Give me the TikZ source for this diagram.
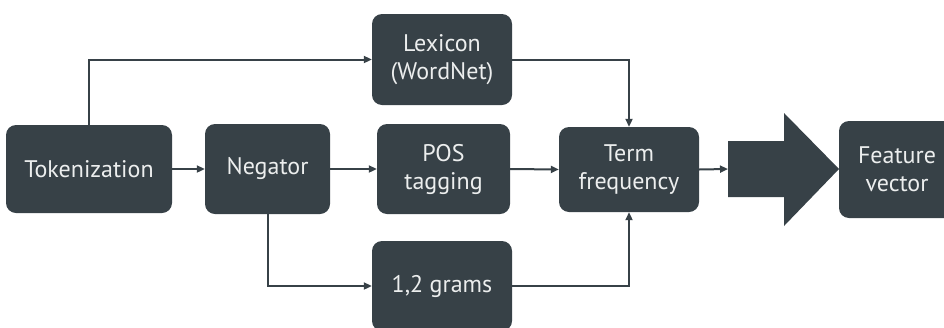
\documentclass[tikz,border=0pt]{standalone}
\usepackage{fontspec}
\setmainfont{PT Sans}
\usetikzlibrary{arrows.meta}
\definecolor{boxc}{HTML}{374147}
\definecolor{txtc}{HTML}{ECEEEE}
\tikzset{
  blk/.style={draw=none, fill=boxc, rounded corners=10pt, text=txtc, align=center,
    font=\fontsize{24}{28}\selectfont, inner sep=0pt},
  arr/.style={draw=boxc, line width=2pt, -{Triangle[length=8pt,width=7pt]}},
}
\begin{document}
\begin{tikzpicture}[x=1pt,y=-1pt]
\useasboundingbox (0,0) rectangle (944,327);
\node[blk, minimum width=166pt, minimum height=88pt] (tok) at (89,169) {Tokenization};
\node[blk, minimum width=125pt, minimum height=90pt] (neg) at (267.5,169) {Negator};
\node[blk, minimum width=140pt, minimum height=91pt] (lex) at (442,59.5) {Lexicon\\(WordNet)};
\node[blk, minimum width=133pt, minimum height=90pt] (pos) at (443.5,169) {POS\\tagging};
\node[blk, minimum width=140pt, minimum height=90pt] (grams) at (442,286) {1,2 grams};
\node[blk, minimum width=140pt, minimum height=85pt] (term) at (629,169.5) {Term\\frequency};
\node[blk, minimum width=116pt, minimum height=97pt] (feat) at (897,169.5) {Feature\\vector};
\coordinate (big) at (728,169);
\fill[boxc] (728,141) -- (784,141) -- (784,113) -- (839,169) -- (784,226) -- (784,197) -- (728,197) -- cycle;
\draw[arr] (tok.north) |- (lex.west);
\draw[arr] (neg.south) |- (grams.west);
\draw[arr] (lex.east) -| (term.north);
\draw[arr] (grams.east) -| (term.south);
\draw[arr] (tok.east) -- (neg.west);
\draw[arr] (neg.east) -- (pos.west);
\draw[arr] (pos.east) -- (term.west);
\draw[arr] (term.east) -- (big);
\end{tikzpicture}
\end{document}
